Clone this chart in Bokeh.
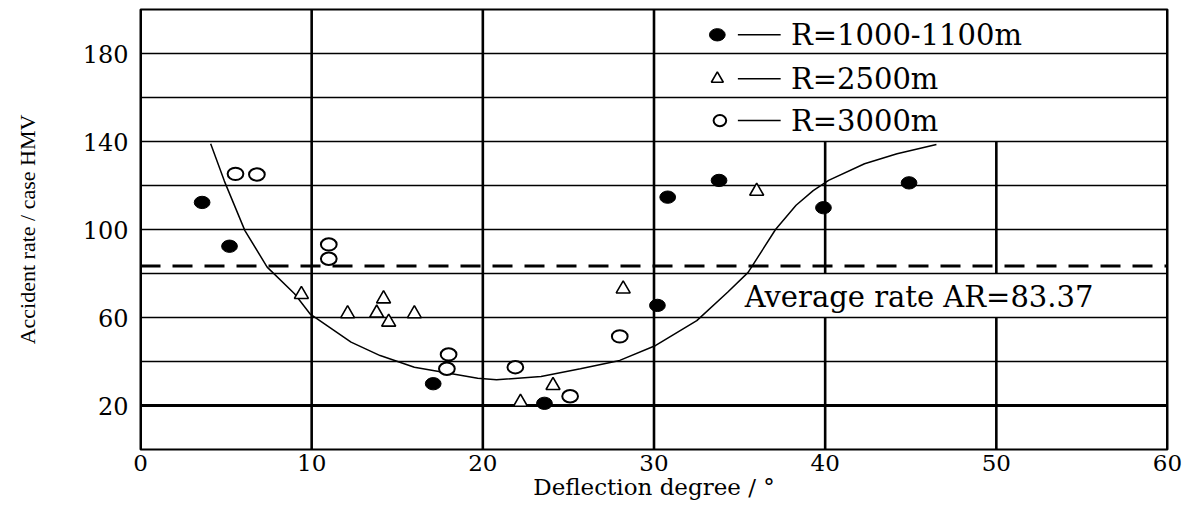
from bokeh.plotting import figure
from bokeh.models import Range1d, FixedTicker
from bokeh.core.properties import value
from bokeh.embed import file_html
from bokeh.resources import INLINE

# Accident rate (cases per HMV) against deflection degree, by curve radius
r1000_deg = [3.6, 5.2, 17.1, 23.6, 30.2, 30.8, 33.8, 39.9, 44.9]
r1000_rate = [112.3, 92.4, 29.9, 21.0, 65.5, 114.7, 122.3, 109.9, 121.2]

r2500_deg = [9.4, 12.1, 13.8, 14.2, 14.5, 16.0, 22.2, 24.1, 28.2, 36.0]
r2500_rate = [70.5, 61.7, 62.0, 68.5, 57.9, 61.7, 21.5, 29.1, 73.0, 117.4]

r3000_deg = [5.55, 6.8, 11.0, 11.0, 18.0, 17.9, 21.9, 25.1, 28.0]
r3000_rate = [125.3, 125.0, 93.2, 86.7, 43.2, 36.7, 37.4, 24.2, 51.4]

# fitted trend through all radii
fit_deg = [4.1, 4.9, 6.1, 7.4, 9.0, 9.9, 12.3, 14.0, 16.0, 19.7, 20.8, 23.4,
           25.7, 28.0, 30.1, 32.5, 34.3, 35.5, 37.1, 38.3, 39.3, 40.2, 42.3,
           44.2, 46.5]
fit_rate = [139.0, 122.0, 99.5, 82.9, 70.8, 61.7, 48.8, 42.7, 37.4, 32.4, 31.7,
            33.2, 36.7, 40.5, 47.3, 58.6, 71.5, 80.5, 100.0, 111.0, 117.7, 122.3,
            129.9, 134.4, 138.6]

average_rate = 83.37

x_ticks = [0, 10, 20, 30, 40, 50, 60]
y_ticks = [20, 60, 100, 140, 180]
h_grid = [20, 40, 60, 80, 100, 120, 140, 160, 180]

series_labels = ["R=1000-1100m", "R=2500m", "R=3000m"]

SERIF = "DejaVu Serif"
INK = "black"

p = figure(width=1184, height=508,
           x_range=Range1d(0, 60), y_range=Range1d(0, 200),
           output_backend="svg", toolbar_location=None,
           min_border_left=140, min_border_right=17,
           min_border_top=9, min_border_bottom=59)
p.background_fill_color = "white"
p.border_fill_color = "white"
p.outline_line_color = INK
p.outline_line_width = 2
p.outline_line_alpha = 1
p.xgrid.visible = False
p.ygrid.visible = False

for ax in (p.xaxis[0], p.yaxis[0]):
    ax.axis_line_color = None
    ax.major_tick_line_color = None
    ax.minor_tick_line_color = None
    ax.major_tick_out = 0
    ax.major_tick_in = 0
    ax.major_label_text_font = SERIF
    ax.major_label_text_font_size = "24px"
    ax.major_label_text_color = INK
    ax.axis_label_text_font_style = "normal"
    ax.axis_label_text_color = INK

p.xaxis.ticker = FixedTicker(ticks=x_ticks)
p.yaxis.ticker = FixedTicker(ticks=y_ticks)
p.xaxis.major_label_text_font_size = "23px"
p.xaxis.major_label_standoff = 5
p.yaxis.major_label_standoff = 12

p.xaxis.axis_label = "Deflection degree / °"
p.xaxis.axis_label_text_font = SERIF
p.xaxis.axis_label_text_font_size = "23px"
p.xaxis.axis_label_standoff = 0

p.yaxis.axis_label = "Accident rate / case HMV"
p.yaxis.axis_label_text_font = "Liberation Serif"
p.yaxis.axis_label_text_font_size = "22px"
p.yaxis.axis_label_standoff = 40

# legend panel (upper right) and note panel keep the vertical rules out
legend_bottom = 140
note_low, note_high = 60, 80

# horizontal rules, the 20 line drawn heavier
light = [y for y in h_grid if y != 20]
p.segment(x0=0, y0=light, x1=60, y1=light, line_color=INK, line_width=1.6)
p.segment(x0=0, y0=[20], x1=60, y1=[20], line_color=INK, line_width=3)

# vertical rules
full_v = [10, 20, 30]
p.segment(x0=full_v, y0=0, x1=full_v, y1=200, line_color=INK, line_width=2.6)
part_v = [40, 50]
p.segment(x0=part_v, y0=0, x1=part_v, y1=note_low, line_color=INK, line_width=2.6)
p.segment(x0=part_v, y0=note_high, x1=part_v, y1=legend_bottom,
          line_color=INK, line_width=2.6)
p.segment(x0=[0, 60], y0=0, x1=[0, 60], y1=200, line_color=INK, line_width=3)

# average rate
p.segment(x0=[0], y0=[average_rate], x1=[60], y1=[average_rate],
          line_color=INK, line_width=3, line_dash="20 12")
p.text(x=[35.3], y=[69.5], text=[f"Average rate AR={average_rate:.2f}"],
       text_font=value(SERIF), text_font_size="29px", text_color=INK,
       text_baseline="middle", text_align="left")

# fitted curve
p.line(fit_deg, fit_rate, line_color=INK, line_width=1.5)

# observations (markers a little wider than tall)
dot_w, dot_h = 0.92, 5.6
p.scatter(r2500_deg, r2500_rate, marker="triangle", size=14,
          fill_color="white", line_color=INK, line_width=1.6)
p.ellipse(x=r3000_deg, y=r3000_rate, width=dot_w, height=dot_h,
          fill_color="white", line_color=INK, line_width=2)
p.ellipse(x=r1000_deg, y=r1000_rate, width=dot_w, height=dot_h,
          fill_color=INK, line_color=INK, line_width=1)

# legend rows: symbol, short rule, label
row_y = [188.5, 168.5, 149.5]
sym_x = 33.7
p.ellipse(x=[sym_x], y=[row_y[0]], width=dot_w, height=dot_h,
          fill_color=INK, line_color=INK)
p.scatter([sym_x], [row_y[1]], marker="triangle", size=12,
          fill_color="white", line_color=INK, line_width=1.6)
p.ellipse(x=[sym_x + 0.15], y=[row_y[2]], width=dot_w * 0.8, height=dot_h * 0.9,
          fill_color="white", line_color=INK, line_width=2)
p.segment(x0=34.9, y0=row_y, x1=37.4, y1=row_y, line_color=INK, line_width=1.5)
p.text(x=38.0, y=row_y, text=series_labels,
       text_font=value(SERIF), text_font_size="29px", text_color=INK,
       text_baseline="middle", text_align="left")

open("out.html", "w").write(file_html(p, INLINE))
